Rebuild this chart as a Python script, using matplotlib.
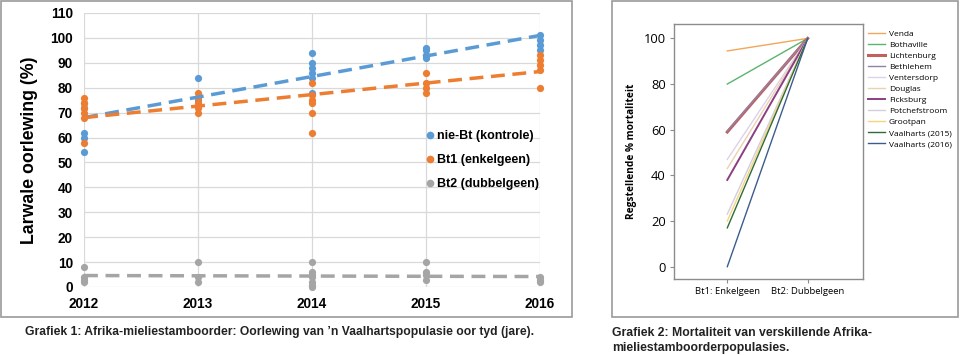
import matplotlib
matplotlib.use("Agg")
import matplotlib.pyplot as plt
from matplotlib.patches import Rectangle
from matplotlib.lines import Line2D

# ---------------- data: Grafiek 1 ----------------
years = [2012, 2013, 2014, 2015, 2016]
nie_bt = {
    2012: [54, 60, 62, 72, 74],
    2013: [84, 75],
    2014: [94, 90, 88, 86, 84, 78],
    2015: [96, 95, 93, 92],
    2016: [101, 99, 97, 95],
}
bt1 = {
    2012: [58, 68, 70, 72, 74, 76],
    2013: [78, 76, 74, 72, 70],
    2014: [82, 77, 75, 74, 70, 62],
    2015: [86, 82, 80, 78],
    2016: [93, 91, 89, 87, 80],
}
bt2 = {
    2012: [8, 4, 3, 2],
    2013: [10, 4, 2],
    2014: [10, 6, 5, 4, 2, 1, 0],
    2015: [10, 6, 5, 3],
    2016: [4, 3, 2],
}
trend_years = [2012, 2016]
trend_nie_bt = [68, 101]
trend_bt1 = [68, 86.5]
trend_bt2 = [4.6, 4.2]
series_names = ["nie-Bt (kontrole)", "Bt1 (enkelgeen)", "Bt2 (dubbelgeen)"]
series_colors = ["#5B9BD5", "#ED7D31", "#A5A5A5"]

# ---------------- data: Grafiek 2 ----------------
populations = ["Venda", "Bothaville", "Lichtenburg", "Bethlehem", "Ventersdorp",
               "Douglas", "Ficksburg", "Potchefstroom", "Grootpan",
               "Vaalharts (2015)", "Vaalharts (2016)"]
mort_bt1 = [94.5, 80, 59, 59.5, 47, 43, 38, 23, 20, 17, 0]
mort_bt2 = [100, 100, 100, 100, 100, 100, 100, 100, 100, 100, 100]
pop_colors = ["#F2A65A", "#5BB36E", "#C0605F", "#8E84A8", "#DCD2EA",
              "#E9D2AE", "#8C3E82", "#D6CCE0", "#F4D77C", "#2E6B3B", "#3D5C8E"]
pop_widths = [1.0, 1.0, 2.2, 1.0, 1.0, 1.0, 1.4, 1.0, 1.0, 1.0, 1.0]
categories = ["Bt1: Enkelgeen", "Bt2: Dubbelgeen"]

caption1 = "Grafiek 1: Afrika-mieliestamboorder: Oorlewing van \u2019n Vaalhartspopulasie oor tyd (jare)."
caption2 = "Grafiek 2: Mortaliteit van verskillende Afrika-\nmieliestamboorderpopulasies."

W, H = 960, 355
fig = plt.figure(figsize=(W / 100, H / 100), dpi=100)

def fx(px):
    return px / W

def fy(py):
    return 1 - py / H

# panel frames
fig.patches.append(Rectangle((fx(1), fy(317)), fx(571), 316 / H, transform=fig.transFigure,
                             fill=False, edgecolor="#9a9a9a", linewidth=1.2))
fig.patches.append(Rectangle((fx(612), fy(317)), fx(346), 316 / H, transform=fig.transFigure,
                             fill=False, edgecolor="#9a9a9a", linewidth=1.2))

bold_font = ["Liberation Sans", "DejaVu Sans"]
body_font = ["Open Sans", "DejaVu Sans"]

# ---------------- Grafiek 1 ----------------
ax1 = fig.add_axes([fx(84), fy(287), fx(540 - 84), (287 - 13) / H])
ax1.set_xlim(2012, 2016)
ax1.set_ylim(0, 110)
ax1.set_yticks(range(0, 111, 10))
ax1.set_xticks(years)
ax1.grid(True, color="#d9d9d9", linewidth=0.9)
ax1.set_axisbelow(True)
for s in ax1.spines.values():
    s.set_visible(False)
ax1.tick_params(length=0, pad=8)
for lab in ax1.get_xticklabels() + ax1.get_yticklabels():
    lab.set_fontweight("bold")
    lab.set_fontsize(9.8)
    lab.set_family(bold_font)
ax1.tick_params(axis="x", pad=7)

for data, color in zip([nie_bt, bt1, bt2], series_colors):
    for y in years:
        vals = data[y]
        ax1.scatter([y] * len(vals), vals, s=27, color=color, zorder=3, clip_on=False,
                    linewidths=0)

for tr, color in zip([trend_nie_bt, trend_bt1, trend_bt2], series_colors):
    ax1.plot(trend_years, tr, color=color, linewidth=2.5, dashes=(4, 2.2), zorder=4,
             solid_capstyle="butt")

ax1.set_ylabel("Larwale oorlewing (%)", fontsize=12.8, fontweight="bold", family=bold_font,
               labelpad=9)

handles = [Line2D([], [], marker="o", linestyle="none", color=c, markersize=4.5)
           for c in series_colors]
leg1 = ax1.legend(handles, series_names, loc="upper left", bbox_to_anchor=(0.735, 0.59),
                  frameon=False, handletextpad=0.0, labelspacing=0.95, handlelength=1.0,
                  borderaxespad=0, prop={"weight": "bold", "size": 9, "family": bold_font})

# ---------------- Grafiek 2 ----------------
ax2 = fig.add_axes([fx(674), fy(279), fx(863 - 674), (279 - 24) / H])
xpos = [0, 1]
for name, a, b, c, lw in zip(populations, mort_bt1, mort_bt2, pop_colors, pop_widths):
    ax2.plot(xpos, [a, b], color=c, linewidth=lw, label=name)
ax2.set_xlim(-0.663, 1.688)
ax2.set_ylim(-5.4, 106.3)
ax2.set_yticks(range(0, 101, 20))
ax2.set_xticks(xpos)
ax2.set_xticklabels(categories, fontsize=6.8, family=body_font)
for lab in ax2.get_yticklabels():
    lab.set_fontsize(9.3)
    lab.set_family(body_font)
for s in ax2.spines.values():
    s.set_color("#8c8c8c")
    s.set_linewidth(1.0)
ax2.tick_params(axis="both", length=3, width=0.8, color="#8c8c8c", pad=3)
ax2.set_ylabel("Regstellende % mortaliteit", fontsize=7.3, fontweight="bold",
               family=body_font, labelpad=5)
ax2.legend(loc="upper left", bbox_to_anchor=(1.0, 0.995), frameon=False,
           prop={"size": 6.0, "family": body_font},
           handlelength=2.0, handletextpad=0.5, labelspacing=0.38, borderaxespad=0.2)

# ---------------- captions ----------------
cap_font = ["Liberation Sans Narrow", "Liberation Sans", "DejaVu Sans"]
fig.text(fx(25), fy(332), caption1, fontsize=8.7, fontweight="bold", family=cap_font,
         va="center", ha="left", color="#222222")
fig.text(fx(612), fy(340.5), caption2, fontsize=8.8, fontweight="bold", family=cap_font,
         va="center", ha="left", color="#222222", linespacing=1.35)

fig.savefig("out.png", dpi=100)
